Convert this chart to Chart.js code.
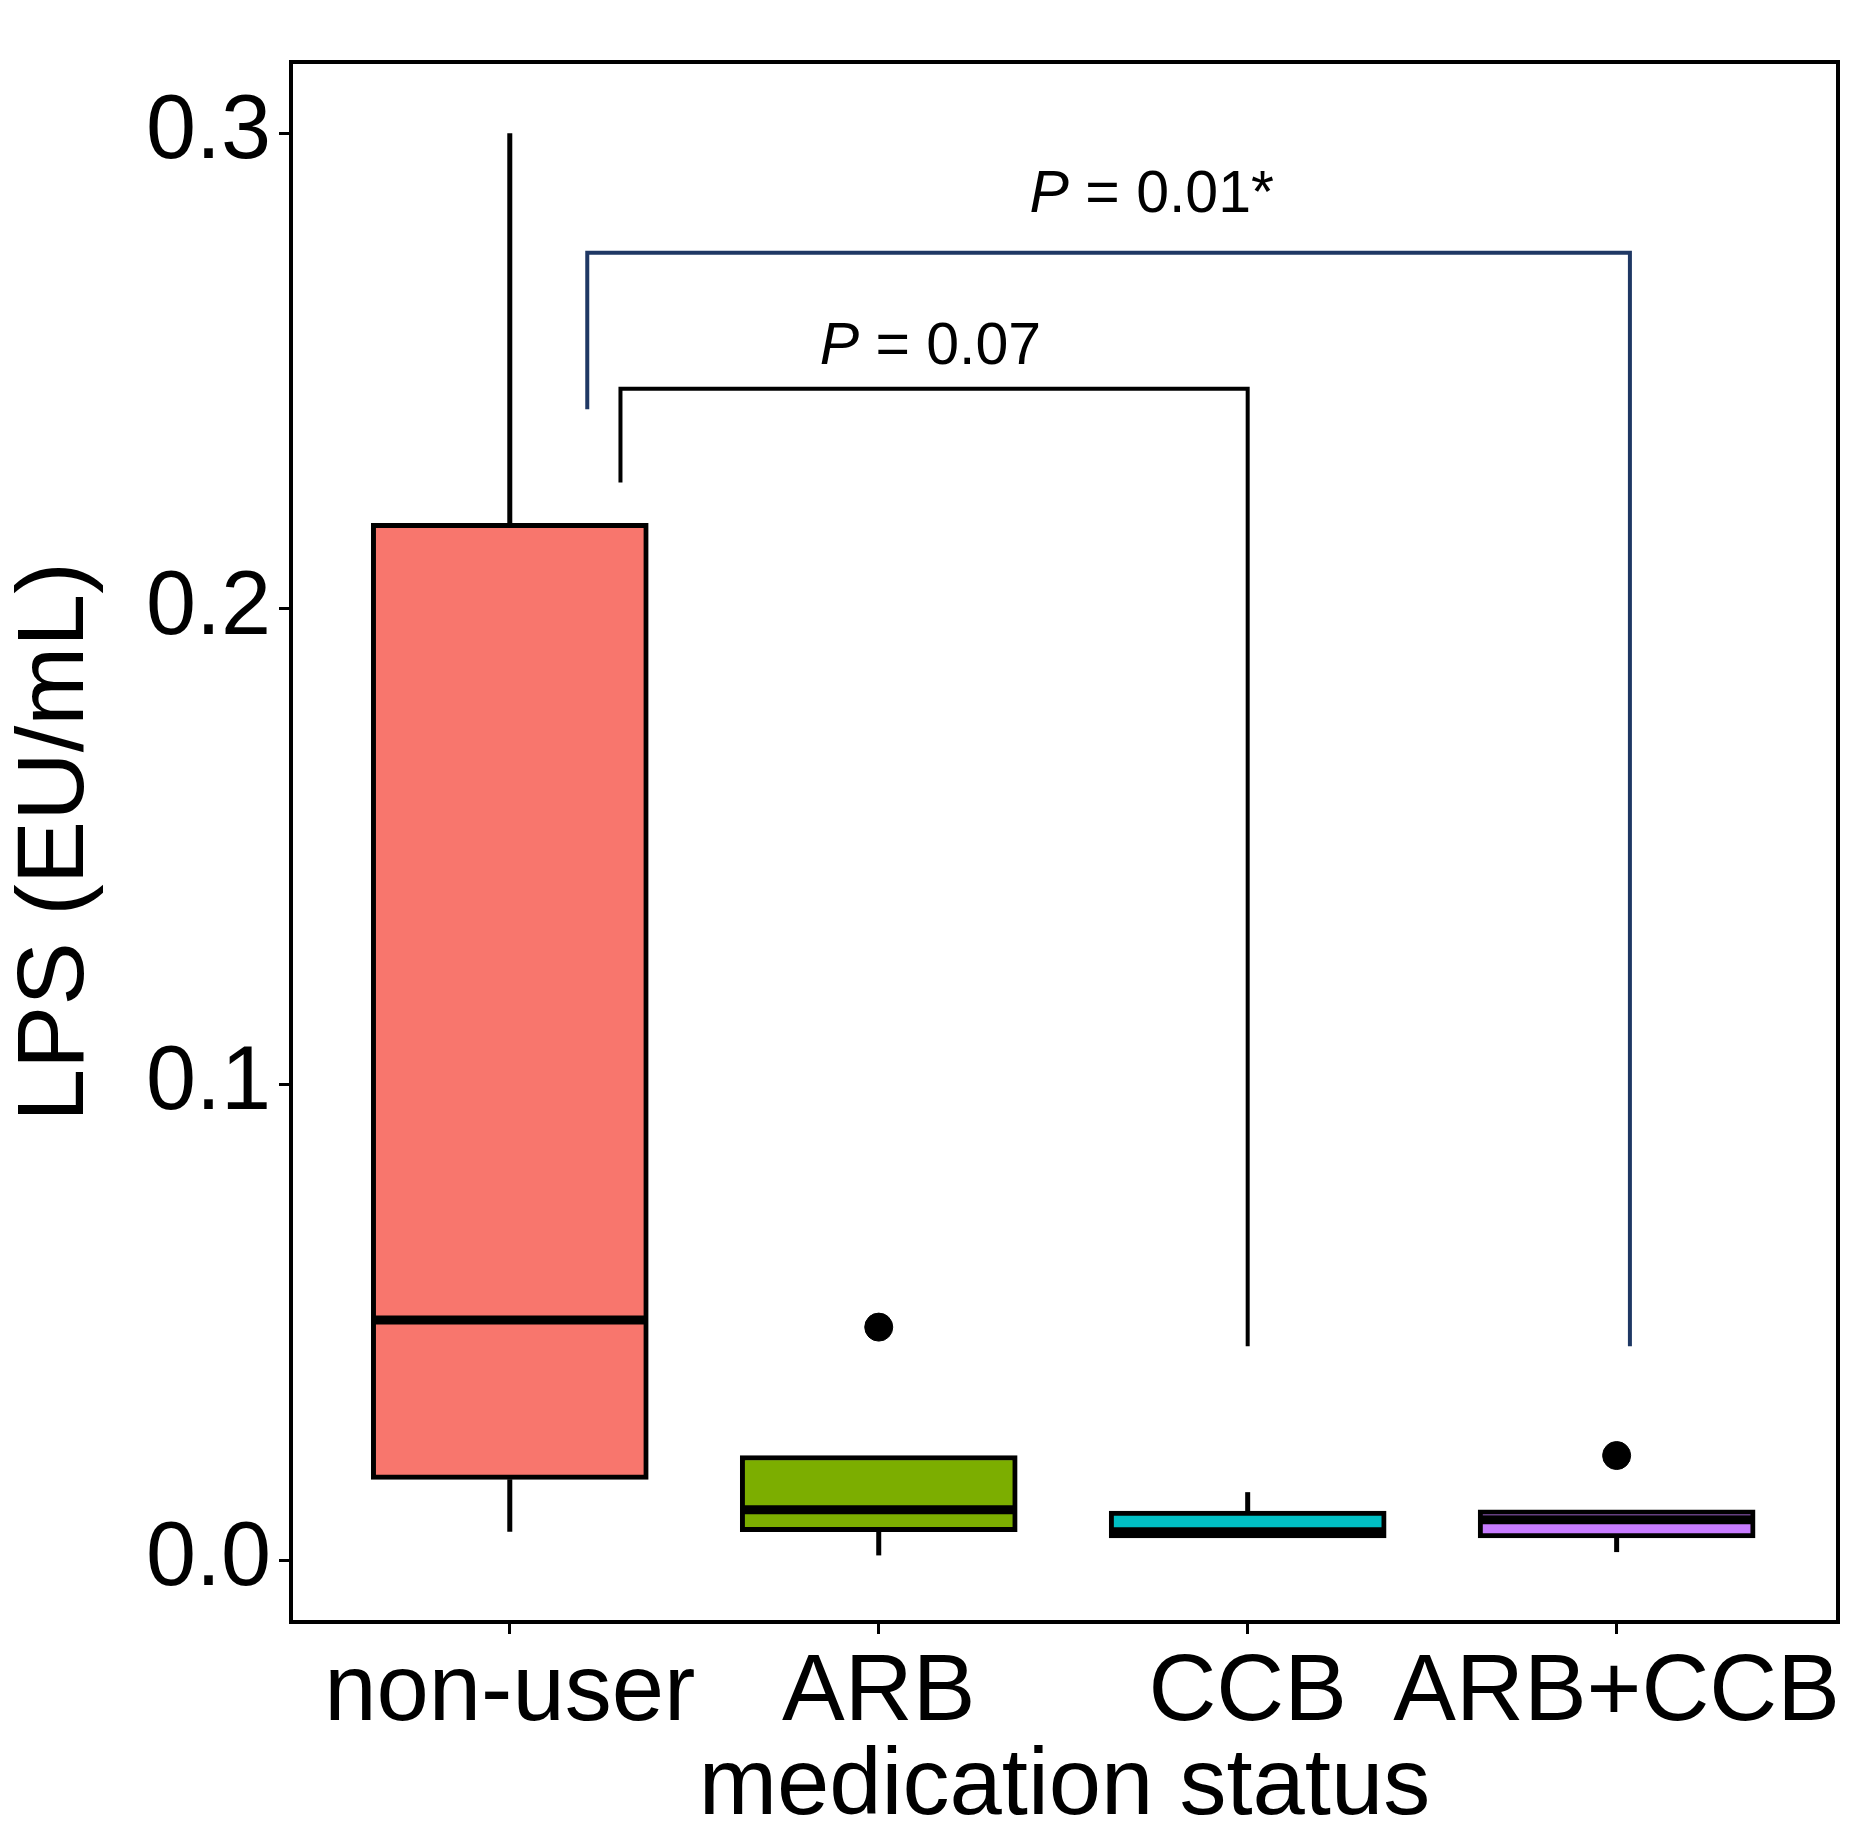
<!DOCTYPE html>
<html>
<head>
<meta charset="utf-8">
<script src="https://cdn.jsdelivr.net/npm/chart.js@4"></script>
<style>
  html, body { margin: 0; padding: 0; background: #fff; }
  #wrap { width: 1855px; height: 1844px; }
</style>
</head>
<body>
<div id="wrap"><canvas id="c" width="1855" height="1844"></canvas></div>
<script>
// categorias e estatísticas dos boxplots
var categories = ['non-user', 'ARB', 'CCB', 'ARB+CCB'];
var whiskerLow = [0.006, 0.001, 0.0047, 0.0017];
var q1 = [0.017, 0.006, 0.0047, 0.0047];
var median = [0.0505, 0.0106, 0.006, 0.0085];
var q3 = [0.218, 0.022, 0.0103, 0.0106];
var whiskerHigh = [0.3, 0.022, 0.0143, 0.0106];
var outliers = [{ x: 1, y: 0.049 }, { x: 3, y: 0.022 }];
var boxColors = ['#f8766d', '#7cae00', '#00bfc4', '#c77cff'];
var yTicks = [0, 0.1, 0.2, 0.3];

// colchetes de comparação
var brackets = [
  { x1: 0.30, x2: 2.0, top: 0.2463, low1: 0.2266, low2: 0.045, color: '#000000', label: '0.07', tx: 1.14, ty: 0.2515 },
  { x1: 0.21, x2: 3.036, top: 0.2749, low1: 0.242, low2: 0.045, color: '#1f3864', label: '0.01*', tx: 1.74, ty: 0.2835 }
];

var FONT = '"Liberation Sans", Arial, sans-serif';

var boxData = categories.map(function (c, i) { return { x: i, y: [q1[i], q3[i]] }; });

var boxPlugin = {
  id: 'boxExtras',
  beforeDatasetsDraw: function (chart) {
    var ctx = chart.ctx, xs = chart.scales.x, ys = chart.scales.y;
    ctx.save();
    ctx.strokeStyle = '#000';
    ctx.lineWidth = 5;
    for (var i = 0; i < categories.length; i++) {
      var px = xs.getPixelForValue(i);
      ctx.beginPath();
      ctx.moveTo(px, ys.getPixelForValue(whiskerHigh[i]));
      ctx.lineTo(px, ys.getPixelForValue(q3[i]));
      ctx.moveTo(px, ys.getPixelForValue(q1[i]));
      ctx.lineTo(px, ys.getPixelForValue(whiskerLow[i]));
      ctx.stroke();
    }
    ctx.restore();
  },
  afterDatasetsDraw: function (chart) {
    var ctx = chart.ctx, xs = chart.scales.x, ys = chart.scales.y;
    var half = 136;
    ctx.save();
    // medianas
    ctx.strokeStyle = '#000';
    ctx.lineWidth = 9;
    for (var i = 0; i < categories.length; i++) {
      var px = xs.getPixelForValue(i), py = ys.getPixelForValue(median[i]);
      ctx.beginPath();
      ctx.moveTo(px - half, py);
      ctx.lineTo(px + half, py);
      ctx.stroke();
    }
    // colchetes e valores de P
    ctx.lineWidth = 4;
    brackets.forEach(function (b) {
      ctx.strokeStyle = b.color;
      ctx.beginPath();
      ctx.moveTo(xs.getPixelForValue(b.x1), ys.getPixelForValue(b.low1));
      ctx.lineTo(xs.getPixelForValue(b.x1), ys.getPixelForValue(b.top));
      ctx.lineTo(xs.getPixelForValue(b.x2), ys.getPixelForValue(b.top));
      ctx.lineTo(xs.getPixelForValue(b.x2), ys.getPixelForValue(b.low2));
      ctx.stroke();
      var tx = xs.getPixelForValue(b.tx), ty = ys.getPixelForValue(b.ty);
      ctx.fillStyle = '#000';
      ctx.textBaseline = 'alphabetic';
      ctx.font = 'italic 59px ' + FONT;
      var w1 = ctx.measureText('P').width;
      ctx.font = '59px ' + FONT;
      var rest = ' = ' + b.label;
      var w2 = ctx.measureText(rest).width;
      var start = tx - (w1 + w2) / 2;
      ctx.font = 'italic 59px ' + FONT;
      ctx.fillText('P', start, ty);
      ctx.font = '59px ' + FONT;
      ctx.fillText(rest, start + w1, ty);
    });
    // moldura
    var a = chart.chartArea;
    ctx.strokeStyle = '#000';
    ctx.lineWidth = 4;
    ctx.strokeRect(a.left, a.top, a.right - a.left, a.bottom - a.top);
    ctx.restore();
  }
};

new Chart(document.getElementById('c').getContext('2d'), {
  type: 'bar',
  data: {
    datasets: [{
      type: 'bar',
      data: boxData,
      backgroundColor: boxColors,
      borderColor: '#000',
      borderWidth: 5,
      borderSkipped: false,
      barThickness: 277,
      order: 2
    }, {
      type: 'scatter',
      data: outliers,
      backgroundColor: '#000',
      borderColor: '#000',
      pointRadius: 14,
      order: 1
    }]
  },
  options: {
    responsive: false,
    animation: false,
    devicePixelRatio: 1,
    layout: { padding: { top: 36, right: 17, left: 0, bottom: 0 } },
    plugins: { legend: { display: false }, tooltip: { enabled: false } },
    scales: {
      x: {
        type: 'linear',
        offset: false,
        bounds: 'data',
        min: -0.593,
        max: 3.6,
        afterBuildTicks: function (axis) { axis.ticks = categories.map(function (c, i) { return { value: i }; }); },
        ticks: {
          callback: function (v) { return categories[v]; },
          font: { family: FONT, size: 94 },
          color: '#000',
          padding: 4,
          maxRotation: 0,
          autoSkip: false
        },
        grid: { offset: false, drawOnChartArea: false, color: '#000', tickLength: 12, tickWidth: 3 },
        border: { display: false },
        title: { display: true, text: 'medication status', font: { family: FONT, size: 94 }, color: '#000', padding: { top: 0, bottom: 0 } },
        afterFit: function (axis) { axis.height = 222; }
      },
      y: {
        min: -0.013,
        max: 0.315,
        afterBuildTicks: function (axis) { axis.ticks = yTicks.map(function (v) { return { value: v }; }); },
        ticks: {
          callback: function (v) { return v.toFixed(1); },
          font: { family: FONT, size: 90 },
          color: '#000',
          padding: 8
        },
        grid: { drawOnChartArea: false, color: '#000', tickLength: 12, tickWidth: 3 },
        border: { display: false },
        title: { display: true, text: 'LPS (EU/mL)', font: { family: FONT, size: 95 }, color: '#000', padding: { top: 0, bottom: 4 } },
        afterFit: function (axis) { axis.width = 291; }
      }
    }
  },
  plugins: [boxPlugin]
});
</script>
</body>
</html>
